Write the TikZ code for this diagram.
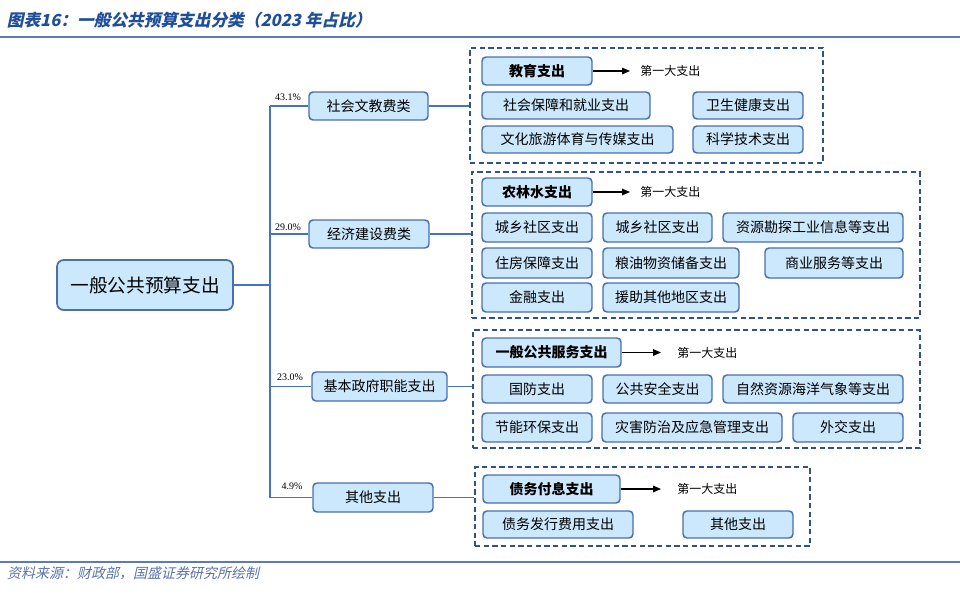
\documentclass[tikz,border=0pt]{standalone}
\usepackage{fontspec}
\setmainfont{Noto Sans CJK SC}
\newfontfamily\pctfont{Liberation Serif}
\usetikzlibrary{arrows.meta}
\definecolor{bfill}{HTML}{CCE8FC}
\definecolor{bdraw}{HTML}{4A6EB0}
\definecolor{conn}{HTML}{4472C4}
\definecolor{dashc}{HTML}{2F528F}
\definecolor{titlec}{HTML}{1F4E9A}
\definecolor{footc}{HTML}{5B74A8}
\definecolor{rulec}{HTML}{5A7DB5}
\newcommand\mkbox[7]{\node[#1, minimum width={(#4-#2)*0.75pt}, minimum height={(#5-#3)*0.75pt}] (#6) at ({(#2+#4)/2},{(#3+#5)/2}) {#7};}
\tikzset{
  box/.style={draw=bdraw, fill=bfill, line width=1.1pt, rounded corners=3pt, inner sep=0pt, font=\fontsize{10.5}{12}\selectfont},
  bbox/.style={box, font=\fontsize{10.5}{12}\selectfont\bfseries},
  rootbox/.style={box, line width=1.3pt, rounded corners=5pt, font=\fontsize{14}{16}\selectfont},
  cont/.style={draw=dashc, line width=1.1pt, dash pattern=on 4pt off 2.5pt, inner sep=0pt},
  link/.style={draw=conn, line width=1.1pt},
  pct/.style={inner sep=0pt, font=\pctfont\fontsize{7.5}{9}\selectfont},
  first/.style={anchor=west, inner sep=0pt, font=\fontsize{9}{10}\selectfont},
  arr/.style={draw=black, line width=0.8pt, -{Triangle[length=6pt,width=5pt]}},
  slanttext/.style={anchor=west, inner sep=0pt, xslant=0.22, transform shape}
}
\begin{document}
\begin{tikzpicture}[x=0.75pt, y=-0.75pt]
\useasboundingbox (0,0) rectangle (960,596);
% title and rules
\node[slanttext, text=titlec, font=\fontsize{12.5}{14}\selectfont\bfseries] (title) at (8,20) {图表16：一般公共预算支出分类（2023 年占比）};
\coordinate (r1a) at (0,37); \coordinate (r1b) at (960,37);
\draw[rulec, line width=1.1pt] (r1a) -- (r1b);
\coordinate (r2a) at (0,562); \coordinate (r2b) at (960,562);
\draw[rulec, line width=1.1pt] (r2a) -- (r2b);
\node[slanttext, text=footc, font=\fontsize{10.5}{12}\selectfont] (foot) at (8,573) {资料来源：财政部，国盛证券研究所绘制};
% containers
\mkbox{cont}{470}{48}{823}{163}{c1}{}
\mkbox{cont}{472}{172}{920}{318}{c2}{}
\mkbox{cont}{473}{330}{920}{448}{c3}{}
\mkbox{cont}{475}{467}{810}{546}{c4}{}
% root and level 1
\mkbox{rootbox}{57}{260}{233}{310}{root}{一般公共预算支出}
\mkbox{box}{309}{92}{428}{120}{l1}{社会文教费类}
\mkbox{box}{309}{220}{429}{248}{l2}{经济建设费类}
\mkbox{box}{312}{372}{447}{401}{l3}{基本政府职能支出}
\mkbox{box}{313}{483}{433}{512}{l4}{其他支出}
\coordinate (tr) at (270,285);
\draw[link] (root.east) -- (root.east -| tr);
\draw[link] (l1.west -| tr) -- (l4.west -| tr);
\draw[link] (l1.west -| tr) -- (l1.west);
\draw[link] (l2.west -| tr) -- (l2.west);
\draw[link] (l3.west -| tr) -- (l3.west);
\draw[link] (l4.west -| tr) -- (l4.west);
\node[pct] (p1) at (288,97) {43.1\%};
\node[pct] (p2) at (288,227) {29.0\%};
\node[pct] (p3) at (290,377) {23.0\%};
\node[pct] (p4) at (292,486) {4.9\%};
\draw[link] (l1.east) -- (l1.east -| c1.west);
\draw[link] (l2.east) -- (l2.east -| c2.west);
\draw[link] (l3.east) -- (l3.east -| c3.west);
\draw[link] (l4.east) -- (l4.east -| c4.west);
% container 1
\mkbox{bbox}{482}{57}{592}{85}{a0}{教育支出}
\node[first] (fa) at (640,71) {第一大支出};
\draw[arr] (a0.east) -- ([xshift=-7.5pt]fa.west);
\mkbox{box}{482}{92}{650}{119}{a1}{社会保障和就业支出}
\mkbox{box}{693}{92}{803}{119}{a2}{卫生健康支出}
\mkbox{box}{482}{126}{673}{153}{a3}{文化旅游体育与传媒支出}
\mkbox{box}{693}{126}{803}{153}{a4}{科学技术支出}
% container 2
\mkbox{bbox}{482}{178}{592}{206}{b0}{农林水支出}
\node[first] (fb) at (640,192) {第一大支出};
\draw[arr] (b0.east) -- ([xshift=-7.5pt]fb.west);
\mkbox{box}{482}{213}{592}{242}{b1}{城乡社区支出}
\mkbox{box}{603}{213}{712}{242}{b2}{城乡社区支出}
\mkbox{box}{723}{213}{903}{242}{b3}{资源勘探工业信息等支出}
\mkbox{box}{482}{248}{592}{278}{b4}{住房保障支出}
\mkbox{box}{603}{248}{739}{278}{b5}{粮油物资储备支出}
\mkbox{box}{765}{248}{903}{278}{b6}{商业服务等支出}
\mkbox{box}{482}{283}{592}{312}{b7}{金融支出}
\mkbox{box}{603}{283}{739}{312}{b8}{援助其他地区支出}
% container 3
\mkbox{bbox}{482}{338}{621}{367}{d0}{一般公共服务支出}
\node[first] (fd) at (677,352.5) {第一大支出};
\draw[arr] (d0.east) -- ([xshift=-12pt]fd.west);
\mkbox{box}{482}{375}{592}{403}{d1}{国防支出}
\mkbox{box}{603}{375}{712}{403}{d2}{公共安全支出}
\mkbox{box}{723}{375}{903}{403}{d3}{自然资源海洋气象等支出}
\mkbox{box}{482}{413}{592}{442}{d4}{节能环保支出}
\mkbox{box}{602}{413}{782}{442}{d5}{灾害防治及应急管理支出}
\mkbox{box}{793}{413}{903}{442}{d6}{外交支出}
% container 4
\mkbox{bbox}{483}{475}{620}{503}{e0}{债务付息支出}
\node[first] (fe) at (677,489) {第一大支出};
\draw[arr] (e0.east) -- ([xshift=-12pt]fe.west);
\mkbox{box}{483}{511}{633}{538}{e1}{债务发行费用支出}
\mkbox{box}{683}{511}{793}{538}{e2}{其他支出}
\end{tikzpicture}
\end{document}
